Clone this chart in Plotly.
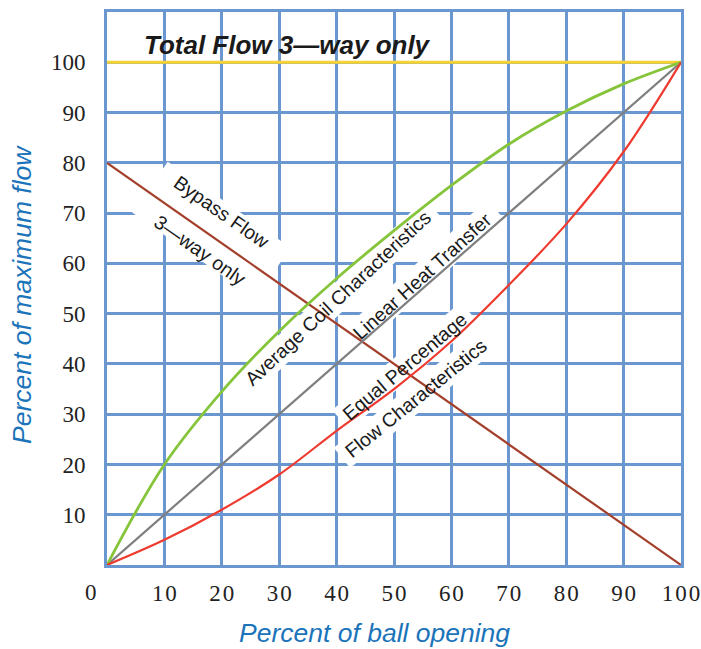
import math
import plotly.graph_objects as go

# ---- data ----
x_pts = [0, 10, 20, 30, 40, 50, 60, 70, 80, 90, 100]
coil = [0, 20, 34.5, 46.5, 57, 66.5, 75.5, 83.7, 90.3, 95.7, 100]
linear = [0, 10, 20, 30, 40, 50, 60, 70, 80, 90, 100]
equal_pct = [0, 5, 11, 18, 26.7, 35, 44.5, 55.7, 67.8, 82.2, 100]
bypass_x = [0, 100]
bypass_y = [80, 0]
total_x = [0, 100]
total_y = [100, 100]

x_ticks = [10, 20, 30, 40, 50, 60, 70, 80, 90, 100]
y_ticks = [10, 20, 30, 40, 50, 60, 70, 80, 90, 100]

GRID = "#6b97d0"
BLUE = "#1b74ba"

W, H = 701, 649
ML, MR, MT, MB = 107, 20, 12, 84
XR = [0, 100]
YR = [0, 110]
PW, PH = W - ML - MR, H - MT - MB
SX = PW / (XR[1] - XR[0])
SY = PH / (YR[1] - YR[0])


def px_to_paper(px, py):
    return (px - ML) / PW, (H - MB - py) / PH


fig = go.Figure()
fig.add_trace(go.Scatter(x=total_x, y=total_y, mode="lines",
                         line=dict(color="#f6d335", width=3), hoverinfo="skip"))
fig.add_trace(go.Scatter(x=bypass_x, y=bypass_y, mode="lines",
                         line=dict(color="#a33f2b", width=2.2), hoverinfo="skip"))
fig.add_trace(go.Scatter(x=x_pts, y=linear, mode="lines",
                         line=dict(color="#7f7f7f", width=2.2), hoverinfo="skip"))
fig.add_trace(go.Scatter(x=x_pts, y=coil, mode="lines", line_shape="spline",
                         line=dict(color="#86c53b", width=2.8), hoverinfo="skip"))
fig.add_trace(go.Scatter(x=x_pts, y=equal_pct, mode="lines", line_shape="spline",
                         line=dict(color="#ee3a2f", width=2.2), hoverinfo="skip"))

label_font = dict(family="Liberation Sans, Arial", size=19.5, color="#1a1a1a")
labels = [
    ("Bypass Flow", 20.0, 70.2, 35),
    ("3\u2014way only", 16.2, 62.7, 35),
    ("Average Coil Characteristics", 40.2, 53.1, -43),
    ("Linear Heat Transfer", 54.9, 57.5, -42),
    ("Equal Percentage", 51.9, 39.6, -40),
    ("Flow Characteristics", 53.8, 33.2, -39),
]
for txt, lx, ly, ang in labels:
    fig.add_annotation(x=lx, y=ly, text=txt, showarrow=False, textangle=ang,
                       font=label_font, xanchor="center", yanchor="middle")

# white halos behind the rotated labels (cover gridlines only, drawn below traces)
halos = [
    (18.2, 66.6, 35, 150, 62),
    (40.2, 53.1, -43, 262, 26),
    (54.9, 57.5, -42, 198, 26),
    (51.9, 39.6, -40, 168, 26),
    (53.8, 33.2, -39, 190, 26),
]
for cx, cy, ang, L, Hh in halos:
    a = math.radians(ang)
    dx = (L / 2) * math.cos(a) / SX
    dy = -(L / 2) * math.sin(a) / SY
    fig.add_shape(type="line", x0=cx - dx, y0=cy - dy, x1=cx + dx, y1=cy + dy,
                  xref="x", yref="y", layer="between",
                  line=dict(color="white", width=Hh))

fig.add_annotation(x=31.5, y=103.4, text="<b><i>Total Flow 3\u2014way only</i></b>",
                   showarrow=False, font=dict(family="Liberation Sans, Arial", size=26, color="#1a1a1a"))

tickfont = dict(family="Liberation Serif, Times New Roman", size=23, color="#222")
zx, zy = px_to_paper(91, 592)
fig.add_annotation(x=zx, y=zy, xref="paper", yref="paper", text="0", showarrow=False,
                   xanchor="center", yanchor="middle", font=tickfont)

title_font = dict(family="Liberation Sans, Arial", size=26.5, color=BLUE)
tx, ty = px_to_paper(374, 633)
fig.add_annotation(x=tx, y=ty, xref="paper", yref="paper", text="<i>Percent of ball opening</i>",
                   showarrow=False, xanchor="center", yanchor="middle", font=title_font)
vx, vy = px_to_paper(22, 295)
fig.add_annotation(x=vx, y=vy, xref="paper", yref="paper", text="<i>Percent of maximum flow</i>",
                   showarrow=False, textangle=-90, xanchor="center", yanchor="middle", font=title_font)

fig.update_layout(
    width=W, height=H,
    margin=dict(l=ML, r=MR, t=MT, b=MB, autoexpand=False),
    paper_bgcolor="white", plot_bgcolor="white",
    showlegend=False,
    xaxis=dict(range=XR, tickvals=x_ticks,
               ticktext=["\u200a".join(list(str(v))) for v in x_ticks],
               showgrid=True, gridcolor=GRID, gridwidth=3,
               zeroline=False, showline=True, linecolor=GRID, linewidth=3, mirror=True,
               ticks="outside", ticklen=5, tickcolor="rgba(0,0,0,0)",
               tickfont=tickfont, automargin=False, ticklabeloverflow="allow"),
    yaxis=dict(range=YR, tickvals=y_ticks,
               showgrid=True, gridcolor=GRID, gridwidth=3,
               zeroline=False, showline=True, linecolor=GRID, linewidth=3, mirror=True,
               ticks="outside", ticklen=14, tickcolor="rgba(0,0,0,0)",
               tickfont=tickfont, automargin=False, ticklabeloverflow="allow"),
)
fig.write_html("out.html", config={"displayModeBar": False},
               post_script="document.body.style.margin='0';document.body.style.padding='0';")
